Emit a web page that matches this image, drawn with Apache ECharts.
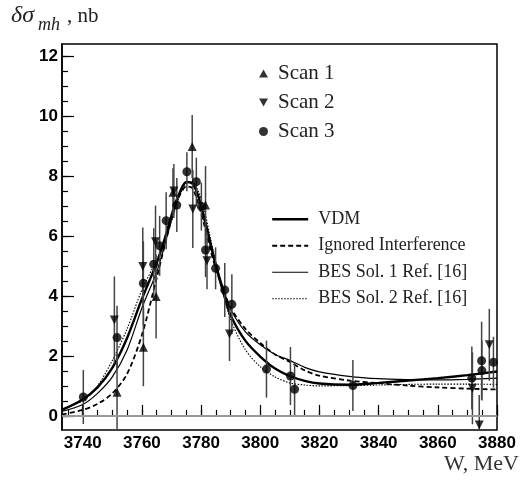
<!DOCTYPE html>
<html>
<head>
<meta charset="utf-8">
<script src="https://cdn.jsdelivr.net/npm/echarts@6/dist/echarts.min.js"></script>
<style>
html,body{margin:0;padding:0;background:#fff;}
#chart{width:525px;height:482px;}
</style>
</head>
<body>
<div id="chart"></div>
<script>
// ---- data ----
const scan1W     = [3751.6, 3760.5, 3764.8, 3770.5, 3777.0, 3781.5];
const scan1Sigma = [0.79, 2.29, 3.98, 7.46, 8.98, 7.03];
const scan1Err   = [1.3, 1.3, 1.4, 0.8, 1.05, 1.3];

const scan2W     = [3750.7, 3760.3, 3764.6, 3770.8, 3777.2, 3782.0, 3789.6, 3871.7, 3874.0, 3877.4];
const scan2Sigma = [3.2, 4.98, 5.81, 7.5, 6.9, 5.17, 2.73, 0.92, -0.3, 2.37];
const scan2Err   = [1.45, 1.3, 1.2, 0.9, 1.3, 0.95, 0.9, 1.2, 1.0, 1.2];

const scan3W     = [3740.2, 3751.6, 3760.5, 3764.0, 3766.0, 3768.2, 3771.8, 3775.2, 3778.4, 3780.1, 3781.5,
                    3784.9, 3788.0, 3790.4, 3802.1, 3810.2, 3811.6, 3831.3, 3871.5, 3874.8, 3874.9, 3878.8];
const scan3Sigma = [0.63, 2.61, 4.42, 5.06, 5.67, 6.51, 7.03, 8.14, 7.81, 6.98, 5.53,
                    4.92, 4.2, 3.72, 1.56, 1.33, 0.89, 1.01, 1.26, 1.84, 1.51, 1.79];
const scan3Err   = [0.9, 1.06, 1.4, 1.2, 1.0, 0.95, 0.9, 0.65, 0.8, 0.8, 0.9,
                    0.7, 0.9, 1.0, 0.95, 0.97, 0.9, 0.85, 1.05, 1.3, 1.0, 0.85];

const curveW  = [3733, 3740, 3745, 3750, 3755, 3760, 3765, 3768, 3771, 3773, 3775, 3777, 3779, 3781, 3783,
                 3785, 3788, 3790, 3795, 3800, 3805, 3810, 3815, 3820, 3830, 3840, 3850, 3860, 3870, 3880];
const vdm     = [0.2, 0.55, 0.95, 1.6, 2.6, 3.9, 5.1, 6.0, 7.0, 7.5, 7.8, 7.75, 7.35, 6.6, 5.8,
                 5.0, 3.95, 3.35, 2.5, 1.98, 1.58, 1.33, 1.17, 1.08, 1.04, 1.1, 1.18, 1.26, 1.36, 1.48];
const ignored = [0.05, 0.2, 0.4, 0.75, 1.4, 2.7, 4.6, 5.8, 6.9, 7.4, 7.65, 7.6, 7.1, 6.4, 5.6,
                 4.9, 4.1, 3.6, 2.9, 2.43, 2.05, 1.8, 1.52, 1.34, 1.18, 1.09, 1.01, 0.95, 0.91, 0.88];
const bes1    = [0.15, 0.38, 0.75, 1.3, 2.2, 3.6, 4.8, 5.8, 6.9, 7.5, 7.8, 7.75, 7.3, 6.7, 5.9,
                 5.1, 4.1, 3.55, 2.8, 2.37, 2.05, 1.85, 1.62, 1.47, 1.32, 1.24, 1.21, 1.2, 1.22, 1.26];
const bes2    = [0.25, 0.5, 1.0, 1.85, 2.9, 4.2, 5.2, 5.9, 6.8, 7.4, 7.75, 7.8, 7.5, 6.9, 6.0,
                 5.1, 3.9, 3.2, 2.2, 1.64, 1.3, 1.1, 1.03, 1.0, 1.01, 1.03, 1.05, 1.06, 1.06, 1.05];

const xMajorTicks = [3740, 3760, 3780, 3800, 3820, 3840, 3860, 3880];
const xMinorTicks = [3735, 3740, 3745, 3750, 3755, 3760, 3765, 3770, 3775, 3780, 3785, 3790, 3795, 3800,
                     3805, 3810, 3815, 3820, 3825, 3830, 3835, 3840, 3845, 3850, 3855, 3860, 3865, 3870, 3875, 3880];
const yMajorTicks = [0, 2, 4, 6, 8, 10, 12];
const yMinorTicks = [0, 0.5, 1, 1.5, 2, 2.5, 3, 3.5, 4, 4.5, 5, 5.5, 6, 6.5, 7, 7.5, 8, 8.5, 9, 9.5,
                     10, 10.5, 11, 11.5, 12];

const seriesNames = ['Scan 1', 'Scan 2', 'Scan 3'];
const curveNames  = ['VDM', 'Ignored Interference', 'BES Sol. 1 Ref. [16]', 'BES Sol. 2 Ref. [16]'];

// ---- build ----
const X_MIN = 3733, X_MAX = 3880, Y_MIN = -0.47, Y_MAX = 12.4;
const serif = '"Liberation Serif", "DejaVu Serif", serif';
const sans = '"Liberation Sans", Arial, sans-serif';

const curveStyles = [
  { color: '#000', width: 2.4, type: 'solid' },
  { color: '#000', width: 1.8, type: [5, 3] },
  { color: '#000', width: 1.2, type: 'solid' },
  { color: '#000', width: 1.1, type: [1.5, 1.5] }
];

function pts(xs, ys) { return xs.map((x, i) => [x, ys[i]]); }
function bars(xs, ys, es) { return xs.map((x, i) => [x, ys[i] - es[i], ys[i] + es[i]]); }

function errSeries(data) {
  return {
    type: 'custom', silent: true, clip: true, z: 3,
    encode: { x: 0, y: [1, 2] },
    data: data,
    renderItem: function (params, api) {
      const p1 = api.coord([api.value(0), api.value(1)]);
      const p2 = api.coord([api.value(0), api.value(2)]);
      return { type: 'line', shape: { x1: p1[0], y1: p1[1], x2: p2[0], y2: p2[1] },
               style: { stroke: '#444', lineWidth: 1.5 } };
    }
  };
}

function curve(idx, ys, extra) {
  return Object.assign({
    name: curveNames[idx], type: 'line', data: pts(curveW, ys), smooth: 0.3,
    symbol: 'none', showSymbol: false, silent: true, z: 2,
    lineStyle: curveStyles[idx], itemStyle: { color: '#000' }
  }, extra || {});
}

const downTri = 'path://M0,0L10,0L5,9Z';
const upTri = 'path://M5,0L10,9L0,9Z';
const plain = v => String(v);

const chart = echarts.init(document.getElementById('chart'), null, { renderer: 'canvas' });
chart.setOption({
  animation: false,
  backgroundColor: '#fff',
  grid: { left: 62, right: 28, top: 44, bottom: 52, show: true, borderColor: '#000', borderWidth: 1.5, backgroundColor: 'transparent' },
  xAxis: [
    { type: 'value', min: X_MIN, max: X_MAX,
      axisLine: { lineStyle: { color: '#000', width: 1.5 } },
      axisTick: { inside: true, length: 11, customValues: xMajorTicks, lineStyle: { color: '#000', width: 1.2 } },
      axisLabel: { customValues: xMajorTicks, formatter: plain, color: '#000', fontFamily: sans, fontWeight: 'bold', fontSize: 17, margin: 5 },
      splitLine: { show: false } },
    { type: 'value', min: X_MIN, max: X_MAX, position: 'bottom',
      axisLine: { show: false },
      axisTick: { inside: true, length: 6, customValues: xMinorTicks, lineStyle: { color: '#000', width: 1.2 } },
      axisLabel: { show: false }, splitLine: { show: false } }
  ],
  yAxis: [
    { type: 'value', min: Y_MIN, max: Y_MAX,
      axisLine: { show: true, lineStyle: { color: '#000', width: 1.5 } },
      axisTick: { show: true, inside: true, length: 12, customValues: yMajorTicks, lineStyle: { color: '#000', width: 1.2 } },
      axisLabel: { customValues: yMajorTicks, formatter: plain, color: '#000', fontFamily: sans, fontWeight: 'bold', fontSize: 17, margin: 4 },
      splitLine: { show: false } },
    { type: 'value', min: Y_MIN, max: Y_MAX, position: 'left',
      axisLine: { show: false },
      axisTick: { show: true, inside: true, length: 6, customValues: yMinorTicks, lineStyle: { color: '#000', width: 1.2 } },
      axisLabel: { show: false }, splitLine: { show: false } }
  ],
  legend: [
    { data: seriesNames, orient: 'vertical', left: 254, top: 58, itemWidth: 9, itemHeight: 9, itemGap: 8,
      selectedMode: false,
      textStyle: { fontFamily: serif, fontSize: 21, color: '#222', lineHeight: 21, padding: [0, 0, 0, 5] } },
    { data: curveNames.map((n, i) => ({ name: n, lineStyle: { width: curveStyles[i].width, type: curveStyles[i].type, color: '#000' } })),
      orient: 'vertical', left: 266, top: 205, itemWidth: 36, itemHeight: 10, itemGap: 8,
      selectedMode: false,
      itemStyle: { opacity: 0, color: 'transparent', borderColor: 'transparent', borderWidth: 0 },
      textStyle: { fontFamily: serif, fontSize: 18, color: '#222', lineHeight: 18.5, padding: [0, 0, 0, 5] } }
  ],
  graphic: [
    { type: 'text', left: 11, top: 4, style: { text: 'δσ', font: 'italic 24px ' + serif, fill: '#222' } },
    { type: 'text', left: 38, top: 16, style: { text: 'mh', font: 'italic 18px ' + serif, fill: '#222' } },
    { type: 'text', left: 67, top: 6, style: { text: ', nb', font: '21px ' + serif, fill: '#222' } },
    { type: 'text', right: 6, top: 453, style: { text: 'W, MeV', font: '22px ' + serif, fill: '#333' } }
  ],
  series: [
    curve(1, ignored),
    curve(2, bes1),
    curve(3, bes2),
    curve(0, vdm, {
      markLine: { silent: true, symbol: 'none', label: { show: false },
        lineStyle: { color: '#999', width: 2, type: 'solid' }, data: [{ yAxis: 0 }] }
    }),
    errSeries(bars(scan1W, scan1Sigma, scan1Err)),
    errSeries(bars(scan2W, scan2Sigma, scan2Err)),
    errSeries(bars(scan3W, scan3Sigma, scan3Err)),
    { name: seriesNames[0], type: 'scatter', data: pts(scan1W, scan1Sigma), symbol: upTri, symbolSize: [9, 9],
      itemStyle: { color: '#000' }, z: 5, silent: true },
    { name: seriesNames[1], type: 'scatter', data: pts(scan2W, scan2Sigma), symbol: downTri, symbolSize: [9, 9],
      itemStyle: { color: '#000' }, z: 5, silent: true },
    { name: seriesNames[2], type: 'scatter', data: pts(scan3W, scan3Sigma), symbol: 'circle', symbolSize: 9,
      itemStyle: { color: '#000' }, z: 5, silent: true }
  ]
});
</script>
</body>
</html>
